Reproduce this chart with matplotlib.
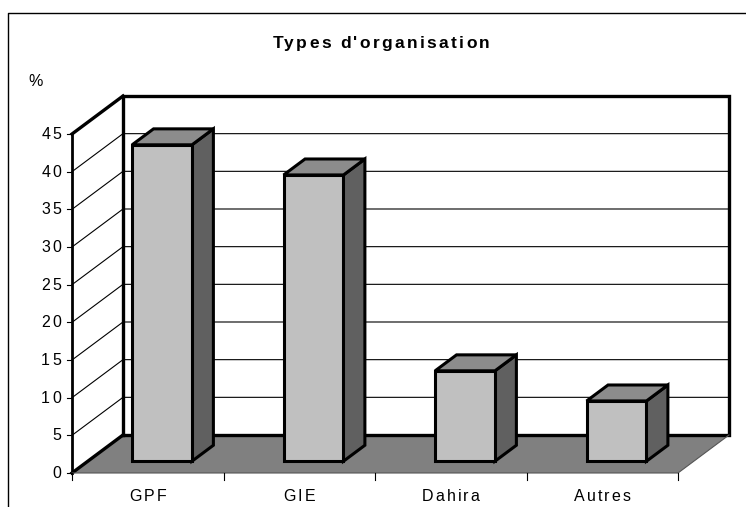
import matplotlib
matplotlib.use('Agg')
import matplotlib.pyplot as plt
from matplotlib.font_manager import FontProperties
from matplotlib.patches import Polygon
from matplotlib.transforms import IdentityTransform

plt.rcParams['font.family'] = ['Liberation Sans', 'DejaVu Sans']

categories = ['GPF', 'GIE', 'Dahira', 'Autres']
values = [42, 38, 12, 8]
yticks = [0, 5, 10, 15, 20, 25, 30, 35, 40, 45]

W, H = 746, 507
# front plane of the fake 3d box, in pixels
left, right, bottom, top = 72, 678, 473, 134

# depth of the box and the bars, in data units
depth_x = 51 / 151.5
depth_y = 38 / 7.533
bar_w = 0.395
bar_start = 0.31
bar_end = 0.73


def proj(x, y, d=0.0):
    # d = 0 front plane, d = 1 back wall
    return (x + d * depth_x, y + d * depth_y)


def poly(ax, pts, fc, lw=2.2, ec='black', z=3):
    ax.add_patch(Polygon(pts, closed=True, facecolor=fc, edgecolor=ec, lw=lw,
                         joinstyle='miter', clip_on=False, zorder=z))


def spaced_text(px, py, s, ha='center', size=11.5, weight='normal', gap=2.0):
    # matplotlib has no letter spacing, so put the letters one by one (display pixels)
    fp = FontProperties(family='Liberation Sans', size=size, weight=weight)
    rend = fig.canvas.get_renderer()
    width = rend.get_text_width_height_descent(s, fp, False)[0] + gap * (len(s) - 1)
    start = px - width / 2 if ha == 'center' else px - width
    for i, ch in enumerate(s):
        adv = rend.get_text_width_height_descent(s[:i + 1], fp, False)[0]
        own = rend.get_text_width_height_descent(ch, fp, False)[0]
        fig.text(start + adv - own + i * gap, py, ch, transform=IdentityTransform(),
                 ha='left', va='baseline', fontproperties=fp, color='black')


fig = plt.figure(figsize=(W / 100, H / 100), dpi=100)
ax = fig.add_axes([left / W, 1 - bottom / H, (right - left) / W, (bottom - top) / H])
ax.set_xlim(0, len(categories))
ax.set_ylim(0, 45)
ax.axis('off')

ymax = yticks[-1]
n = len(categories)

# floor
poly(ax, [proj(0, 0), proj(n, 0), proj(n, 0, 1), proj(0, 0, 1)], '#808080', lw=0, ec='none', z=1)

# gridlines on side and back wall
for t in yticks[1:]:
    ax.plot(*zip(proj(0, t), proj(0, t, 1), proj(n, t, 1)), color='black', lw=0.8,
            clip_on=False, zorder=2, solid_joinstyle='miter')

# walls outline
ax.plot(*zip(proj(0, 0, 1), proj(0, ymax, 1), proj(n, ymax, 1), proj(n, 0, 1), proj(0, 0, 1)),
        color='black', lw=2.4, clip_on=False, zorder=2, solid_joinstyle='miter')
ax.plot(*zip(proj(0, 0), proj(0, 0, 1)), color='black', lw=2.4, clip_on=False, zorder=2)
ax.plot(*zip(proj(0, ymax), proj(0, ymax, 1)), color='black', lw=2.4, clip_on=False, zorder=2)
ax.plot(*zip(proj(0, 0), proj(0, ymax)), color='black', lw=2.0, clip_on=False, zorder=2)

# front edge of the floor and the slanted right edge
ax.plot(*zip(proj(0, 0), proj(n, 0), proj(n, 0, 1)), color='#555555', lw=0.8, clip_on=False, zorder=2)

# ticks on the value axis
for t in yticks:
    xa, ya = proj(0, t)
    ax.plot([xa - 0.03, xa], [ya, ya], color='black', lw=0.8, clip_on=False, zorder=2)
    dx_, dy_ = ax.transData.transform((xa, ya))
    spaced_text(dx_ - 11, dy_ - 5, str(t), ha='right')

# ticks on the category axis
for i in range(n + 1):
    ax.plot([i, i], [0, -0.95], color='black', lw=0.8, clip_on=False, zorder=2)

# bars
for i, (name, v) in enumerate(zip(categories, values)):
    x0 = i + 0.5 - bar_w / 2 - 0.01
    a, b = bar_start, bar_end
    dx = (b - a) * depth_x
    dy = (b - a) * depth_y
    fx0, fy0 = proj(x0, 0, a)
    fx1 = fx0 + bar_w
    ftop = fy0 + v
    # side, top, then front face
    poly(ax, [(fx1, fy0), (fx1 + dx, fy0 + dy), (fx1 + dx, ftop + dy), (fx1, ftop)], '#606060', z=4)
    poly(ax, [(fx0, ftop), (fx1, ftop), (fx1 + dx, ftop + dy), (fx0 + dx, ftop + dy)], '#8c8c8c', z=4)
    poly(ax, [(fx0, fy0), (fx1, fy0), (fx1, ftop), (fx0, ftop)], '#c0c0c0', z=5)
    cx, cy = ax.transData.transform((i + 0.5, 0))
    spaced_text(cx, cy - 28, name)

# title and unit, placed in pixels
spaced_text(381, H - 48, "Types d'organisation", size=12.5, weight='bold', gap=2.3)
spaced_text(36, H - 86, '%', gap=0)

# chart frame, open on the right and bottom
fig.add_artist(plt.Line2D([8 / W, 8 / W, 1], [0, 1 - 13 / H, 1 - 13 / H], color='black', lw=1.0))

fig.savefig('out.png', dpi=100, facecolor='white')
